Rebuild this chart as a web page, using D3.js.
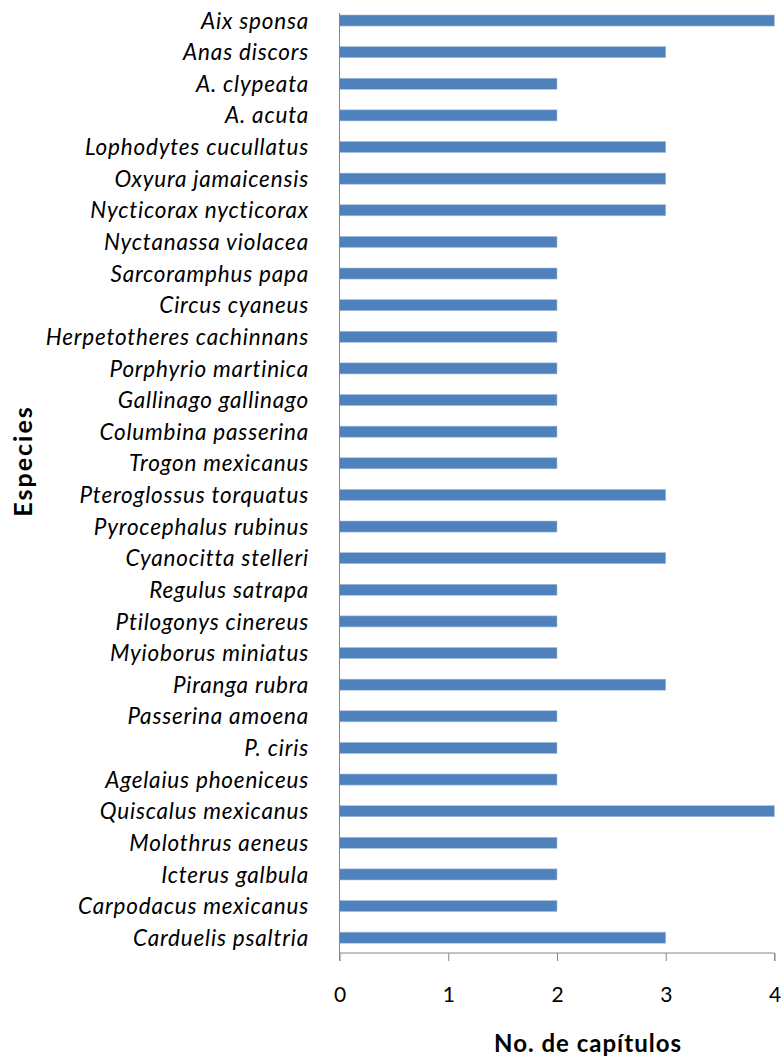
<!DOCTYPE html>
<html>
<head>
<meta charset="utf-8">
<script src="https://cdn.jsdelivr.net/npm/d3@7"></script>
<style>
  body { margin: 0; background: #fff; }
  text { font-family: Lato, "Open Sans", sans-serif; fill: #000; }
</style>
</head>
<body>
<script>
let species = ["Aix sponsa", "Anas discors", "A. clypeata", "A. acuta", "Lophodytes cucullatus",
    "Oxyura jamaicensis", "Nycticorax nycticorax", "Nyctanassa violacea", "Sarcoramphus papa",
    "Circus cyaneus", "Herpetotheres cachinnans", "Porphyrio martinica", "Gallinago gallinago",
    "Columbina passerina", "Trogon mexicanus", "Pteroglossus torquatus", "Pyrocephalus rubinus",
    "Cyanocitta stelleri", "Regulus satrapa", "Ptilogonys cinereus", "Myioborus miniatus",
    "Piranga rubra", "Passerina amoena", "P. ciris", "Agelaius phoeniceus", "Quiscalus mexicanus",
    "Molothrus aeneus", "Icterus galbula", "Carpodacus mexicanus", "Carduelis psaltria"];
let chapters = [4, 3, 2, 2, 3, 3, 3, 2, 2, 2, 2, 2, 2, 2, 2, 3, 2, 3, 2, 2, 2, 3, 2, 2, 2, 4, 2, 2, 2, 3];
let xTicks = [0, 1, 2, 3, 4];

let data = species.map((s, i) => ({ name: s, value: chapters[i] }));

let svg = d3.select("body").append("svg")
    .attr("width", 783)
    .attr("height", 1059);

let x = d3.scaleLinear().domain([0, 4]).range([339.5, 774.5]);
let y = d3.scaleBand().domain(species).range([4.7, 953.5]).paddingInner(0.65).paddingOuter(0.325);

// bars
svg.selectAll("rect.bar")
    .data(data)
    .enter()
        .append("rect")
        .attr("class", "bar")
        .attr("x", x(0))
        .attr("y", (d) => y(d.name))
        .attr("width", (d) => x(d.value) - x(0))
        .attr("height", y.bandwidth())
        .attr("fill", "#4f81bd")
        .attr("stroke", "#a9c1e0")
        .attr("stroke-width", 0.6);

// axes lines
svg.append("line")
    .attr("x1", x(0)).attr("x2", x(0))
    .attr("y1", 13).attr("y2", 953)
    .attr("stroke", "#868686").attr("stroke-width", 1);

let xAxis = d3.axisBottom(x).tickValues(xTicks).tickSize(8).tickPadding(26).tickFormat(d3.format("d"));
let gx = svg.append("g")
    .attr("transform", "translate(0,953)")
    .attr("font-size", 21)
    .attr("font-family", "Lato, sans-serif")
    .call(xAxis);
gx.attr("font-size", 21).attr("font-family", "Lato, sans-serif");
gx.select(".domain").attr("stroke", "#868686").attr("d", `M${x(0)},8V0H${x(4)}V8`);
gx.selectAll(".tick line").attr("stroke", "#868686");
gx.selectAll(".tick text")
    .style("font-size", "21px")
    .attr("fill", "#000");

// category labels
svg.selectAll("text.cat")
    .data(data)
    .enter()
        .append("text")
        .attr("class", "cat")
        .attr("x", 309)
        .attr("y", (d) => y(d.name) + y.bandwidth() / 2)
        .attr("dy", "0.36em")
        .attr("text-anchor", "end")
        .style("font-style", "italic")
        .style("font-size", "22.5px")
        .style("letter-spacing", "0.8px")
        .text((d) => d.name);

// titles
svg.append("text")
    .attr("x", 588)
    .attr("y", 1052)
    .attr("text-anchor", "middle")
    .style("font-weight", "bold")
    .style("font-size", "24px")
    .style("letter-spacing", "1px")
    .text("No. de capítulos");

svg.append("text")
    .attr("transform", "translate(32,461) rotate(-90)")
    .attr("text-anchor", "middle")
    .style("font-weight", "bold")
    .style("font-size", "25px")
    .style("letter-spacing", "2px")
    .text("Especies");
</script>
</body>
</html>
